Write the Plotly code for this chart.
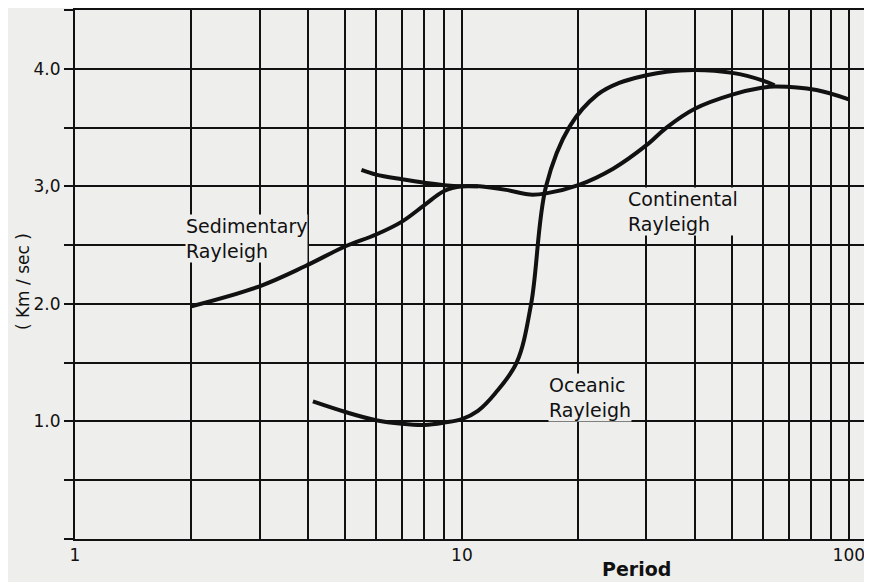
import math
import plotly.graph_objects as go

# ---- data ----
sed_period = [2.0, 3.0, 3.93, 5.0, 6.0, 7.0, 8.0, 9.0, 10.0, 11.0]
sed_vel = [1.98, 2.15, 2.32, 2.49, 2.59, 2.70, 2.84, 2.96, 3.0, 3.0]

cont_period = [5.5, 6.0, 7.0, 8.0, 9.0, 10.0, 11.1, 13.0, 15.0, 16.5, 20.0, 24.6, 30.0, 33.8, 40.0, 50.0, 60.0, 64.3, 82.5, 100.0]
cont_vel = [3.14, 3.10, 3.06, 3.03, 3.01, 3.0, 3.0, 2.97, 2.93, 2.94, 3.01, 3.15, 3.35, 3.50, 3.66, 3.78, 3.84, 3.85, 3.82, 3.74]

ocean_period = [4.12, 5.0, 6.0, 7.0, 8.0, 9.0, 10.0, 11.0, 12.2, 13.85, 15.1, 16.5, 19.0, 22.4, 25.5, 30.0, 33.8, 40.0, 50.0, 60.0, 64.3]
ocean_vel = [1.17, 1.08, 1.01, 0.98, 0.97, 0.99, 1.02, 1.09, 1.24, 1.50, 2.0, 3.0, 3.51, 3.78, 3.88, 3.945, 3.975, 3.99, 3.965, 3.90, 3.86]

x_tickvals = [1, 2, 3, 4, 5, 6, 7, 8, 9, 10, 20, 30, 40, 50, 60, 70, 80, 90, 100]
x_ticktext = ["1", "", "", "", "", "", "", "", "", "10", "", "", "", "", "", "", "", "", "100"]
y_tickvals = [0, 0.5, 1.0, 1.5, 2.0, 2.5, 3.0, 3.5, 4.0, 4.5]
y_ticktext = ["", "", "1.0", "", "2.0", "", "3,0", "", "4.0", ""]

BG = "#eeeeec"
INK = "#111111"
FONT = "DejaVu Sans"

fig = go.Figure()
for xs, ys in [(sed_period, sed_vel), (cont_period, cont_vel), (ocean_period, ocean_vel)]:
    fig.add_trace(go.Scatter(
        x=xs, y=ys, mode="lines",
        line=dict(color=INK, width=4, shape="spline", smoothing=1.0),
        hoverinfo="skip", showlegend=False,
    ))

label_font = dict(family=FONT, size=19, color=INK)
labels = [("Sedimentary<br>Rayleigh", 2.77, 2.56),
          ("Continental<br>Rayleigh", 37.2, 2.79),
          ("Oceanic<br>Rayleigh", 21.4, 1.20)]
for txt, px, vy in labels:
    fig.add_annotation(x=math.log10(px), y=vy, xref="x", yref="y", text=txt,
                       showarrow=False, align="left", xanchor="center", yanchor="middle",
                       font=label_font, bgcolor=BG, borderpad=0)
fig.add_annotation(x=math.log10(28.3), y=-0.057, xref="x", yref="paper", text="<b>Period</b>",
                   showarrow=False, xanchor="center", yanchor="middle",
                   font=dict(family=FONT, size=19, color=INK))
fig.add_annotation(x=-0.065, y=0.486, xref="paper", yref="paper", text="( Km / sec )",
                   textangle=-90, showarrow=False, xanchor="center", yanchor="middle",
                   font=dict(family=FONT, size=17, color=INK))

fig.update_xaxes(
    type="log", range=[0, 2.06],
    tickvals=x_tickvals, ticktext=x_ticktext,
    showgrid=True, gridcolor=INK, gridwidth=2,
    showline=True, linecolor=INK, linewidth=2, mirror=True,
    ticks="", zeroline=False,
    tickfont=dict(family=FONT, size=17, color=INK),
)
fig.update_yaxes(
    range=[0, 4.5],
    tickvals=y_tickvals, ticktext=y_ticktext,
    showgrid=True, gridcolor=INK, gridwidth=2,
    showline=True, linecolor=INK, linewidth=2,
    ticks="outside", ticklen=9, tickwidth=2, tickcolor=INK,
    zeroline=False,
    tickfont=dict(family=FONT, size=17, color=INK),
)
fig.update_layout(
    width=864, height=574,
    margin=dict(l=67, r=0, t=2, b=43),
    paper_bgcolor=BG, plot_bgcolor=BG,
)
fig.write_html("out.html")
